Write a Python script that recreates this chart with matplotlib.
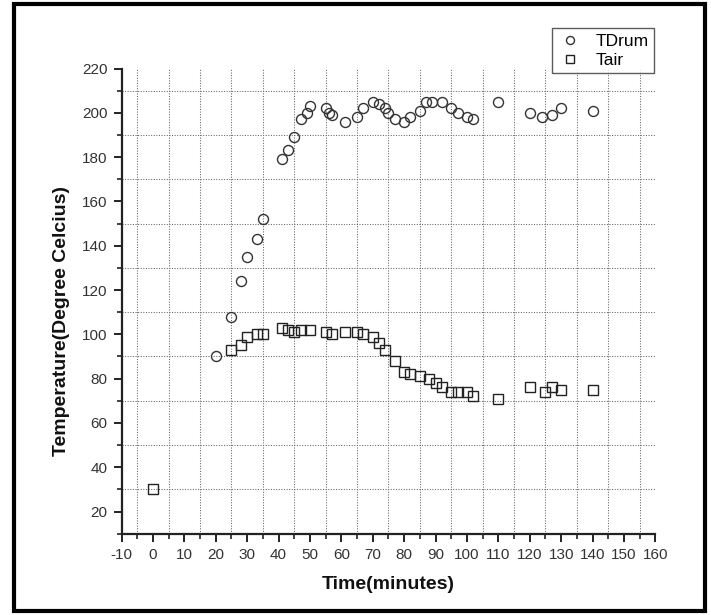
import matplotlib
matplotlib.use("Agg")
import matplotlib.pyplot as plt
from matplotlib.patches import Rectangle
from matplotlib.ticker import MultipleLocator


# ==========================================================
# Data
# ==========================================================

tdrum_time = [20, 25, 28, 30, 33, 35, 41, 43, 45, 47, 49, 50, 55, 56, 57,
              61, 65, 67, 70, 72, 74, 75, 77, 80, 82, 85, 87, 89, 92, 95,
              97, 100, 102, 110, 120, 124, 127, 130, 140]
tdrum_temp = [90, 108, 124, 135, 143, 152, 179, 183, 189, 197, 200, 203,
              202, 200, 199, 196, 198, 202, 205, 204, 202, 200, 197, 196,
              198, 201, 205, 205, 205, 202, 200, 198, 197, 205, 200, 198,
              199, 202, 201]

tair_time = [0, 25, 28, 30, 33, 35, 41, 43, 45, 47, 50, 55, 57, 61, 65, 67,
             70, 72, 74, 77, 80, 82, 85, 88, 90, 92, 95, 97, 100, 102, 110,
             120, 125, 127, 130, 140]
tair_temp = [30, 93, 95, 99, 100, 100, 103, 102, 101, 102, 102, 101, 100,
             101, 101, 100, 99, 96, 93, 88, 83, 82, 81, 80, 78, 76, 74, 74,
             74, 72, 71, 76, 74, 76, 75, 75]


# ==========================================================
# Figure
# ==========================================================

plt.rcParams["font.family"] = ["Liberation Sans", "DejaVu Sans"]
plt.rcParams["axes.unicode_minus"] = False

fig = plt.figure(figsize=(7.11, 6.15), dpi=100)
ax = fig.add_axes([0.1710, 0.1322, 0.7508, 0.7564])

edge = "#333333"

ax.plot(tdrum_time, tdrum_temp, linestyle="none", marker="o",
        markersize=7.2, markerfacecolor="none", markeredgecolor=edge,
        markeredgewidth=1.0, label="TDrum")
ax.plot(tair_time, tair_temp, linestyle="none", marker="s",
        markersize=6.8, markerfacecolor="none", markeredgecolor="#222222",
        markeredgewidth=1.0, label="Tair")

ax.set_xlim(-10, 160)
ax.set_ylim(10, 220)

ax.xaxis.set_major_locator(MultipleLocator(10))
ax.xaxis.set_minor_locator(MultipleLocator(5))
ax.yaxis.set_major_locator(MultipleLocator(20))
ax.yaxis.set_minor_locator(MultipleLocator(10))
ax.set_yticks(range(20, 221, 20))

# grid sits on the minor ticks only (odd positions)
ax.grid(False, which="major")
ax.grid(True, which="minor", color="#666666", linestyle=(0, (1, 1.5)),
        linewidth=0.75)

for side in ["top", "right"]:
    ax.spines[side].set_visible(False)
for side in ["left", "bottom"]:
    ax.spines[side].set_linewidth(1.6)
    ax.spines[side].set_color("#222222")

ax.tick_params(which="major", direction="out", length=6, width=1.4,
               color="#222222", labelsize=11, labelcolor="#333333", pad=4)
ax.tick_params(which="minor", direction="out", length=3.5, width=1.2,
               color="#222222")

ax.set_xlabel("Time(minutes)", fontsize=14, fontweight="bold",
              color="#111111")
ax.set_ylabel("Temperature(Degree Celcius)", fontsize=14, fontweight="bold",
              color="#111111")
ax.xaxis.set_label_coords(0.5, -0.092)
ax.yaxis.set_label_coords(-0.097, 0.457)

fig.legend(loc="upper right", bbox_to_anchor=(0.932, 0.968),
           frameon=True, fancybox=False, edgecolor="#333333",
           fontsize=12.5, markerscale=0.8, handletextpad=0.8,
           borderpad=0.3, labelspacing=0.25, handlelength=1.4)

# thick outer frame around the whole picture
fig.patches.append(Rectangle((0.0197, 0.0065), 0.9719, 0.987,
                             transform=fig.transFigure, fill=False,
                             edgecolor="black", linewidth=3))

fig.savefig("out.png", dpi=100)
